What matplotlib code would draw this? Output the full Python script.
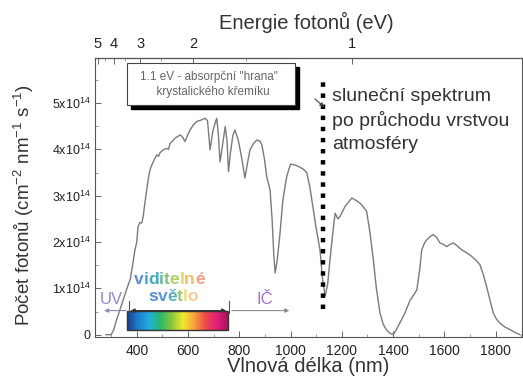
import matplotlib
matplotlib.use('Agg')
import matplotlib.pyplot as plt
from matplotlib.patches import Rectangle
from matplotlib.colors import LinearSegmentedColormap
import numpy as np

plt.rcParams['font.family'] = ['Liberation Sans', 'DejaVu Sans']
plt.rcParams['mathtext.fontset'] = 'custom'
plt.rcParams['mathtext.rm'] = 'Liberation Sans'
plt.rcParams['mathtext.it'] = 'Liberation Sans:italic'

# spektrum po průchodu atmosférou (jednotky 1e14 fotonů cm-2 nm-1 s-1)
wl = [280, 300, 310, 320, 335, 350, 365, 375, 385, 393, 400, 405, 412, 420, 425,
      432, 439, 446, 452, 460, 465, 472, 479, 485, 491, 504, 517, 524, 530, 540,
      549, 560, 569, 578, 588, 598, 608, 620, 634, 650, 666, 676, 686, 697, 705,
      712, 718, 725, 735, 745, 752, 758, 765, 775, 783, 796, 810, 822, 832, 842,
      855, 868, 880, 888, 898, 907, 920, 928, 935, 940, 948, 959, 970, 985, 1000,
      1018, 1035, 1050, 1063, 1075, 1089, 1100, 1115, 1125, 1135, 1145, 1154, 1165,
      1174, 1185, 1193, 1213, 1239, 1255, 1271, 1285, 1297, 1310, 1323, 1335, 1349,
      1362, 1375, 1388, 1401, 1414, 1427, 1445, 1467, 1480, 1493, 1505, 1512, 1522,
      1532, 1545, 1557, 1570, 1583, 1596, 1609, 1622, 1635, 1650, 1668, 1690, 1707,
      1725, 1739, 1752, 1765, 1778, 1791, 1804, 1817, 1835, 1856, 1875, 1895]
flux = [0.0, 0.0, 0.1, 0.3, 0.55, 0.8, 1.05, 1.2, 1.55, 1.83, 2.0, 2.33, 2.42, 2.41, 2.55,
        2.85, 3.13, 3.4, 3.56, 3.68, 3.74, 3.82, 3.88, 3.85, 3.93, 3.99, 4.02, 4.0, 4.13, 4.18,
        4.24, 4.28, 4.31, 4.27, 4.17, 4.3, 4.42, 4.52, 4.6, 4.63, 4.67, 4.62, 3.99, 4.4, 4.55,
        4.67, 4.35, 3.73, 4.1, 4.49, 4.2, 3.52, 3.9, 4.3, 4.42, 4.2, 3.8, 3.38, 3.7, 3.99,
        4.12, 4.2, 4.18, 4.1, 3.8, 3.41, 3.13, 2.5, 1.7, 1.33, 1.6, 2.19, 2.9, 3.41, 3.68,
        3.66, 3.62, 3.57, 3.5, 3.2, 2.69, 2.3, 1.83, 1.2, 0.83, 1.1, 1.62, 2.2,
        2.62, 2.5, 2.55, 2.77, 2.95, 2.9, 2.84, 2.75, 2.66, 2.2, 1.62, 1.0, 0.47,
        0.22, 0.1, 0.03, 0.0, 0.12, 0.26, 0.45, 0.75, 0.85, 0.97, 1.45, 1.83, 1.97,
        2.05, 2.12, 2.16, 2.1, 1.98, 1.95, 1.9, 1.95, 1.98, 1.92, 1.83, 1.76, 1.69,
        1.6, 1.51, 1.3, 1.04, 0.75, 0.47, 0.33, 0.25, 0.17, 0.11, 0.05, 0.0]

x_ticks = [400, 600, 800, 1000, 1200, 1400, 1600, 1800]
y_ticks = [0, 1, 2, 3, 4, 5]
y_labels = ['0', r'1x10$^{14}$', r'2x10$^{14}$', r'3x10$^{14}$', r'4x10$^{14}$', r'5x10$^{14}$']
e_ticks = [5, 4, 3, 2, 1]
e_minor = [4.5, 3.5, 2.5, 1.5]
edge_ev = 1.1
vis_range = (370, 760)

fig = plt.figure(figsize=(5.23, 3.80), dpi=100)
ax = fig.add_axes([0.1816, 0.1132, 0.8164, 0.734])

ax.plot(wl, flux, color='#7a7a7a', lw=1.0, zorder=2)

# absorpční hrana křemíku
edge_wl = 1240 / edge_ev
ax.plot([edge_wl, edge_wl], [0.55, 5.5], color='black', lw=3.2,
        dashes=(1, 1.5), dash_capstyle='butt', zorder=4)

ax.set_xlim(237, 1903)
ax.set_ylim(-0.05, 5.97)
ax.set_xticks(x_ticks)
ax.set_xticks(np.arange(300, 1901, 100), minor=True)
ax.set_yticks(y_ticks)
ax.set_yticklabels(y_labels)
ax.set_yticks(np.arange(0.5, 5.6, 1.0), minor=True)
ax.tick_params(direction='in', length=4, width=0.7, color='#666666', labelsize=10,
               labelcolor='#222222')
ax.tick_params(axis='x', pad=5)
ax.tick_params(axis='y', pad=3, labelsize=9)
ax.tick_params(which='minor', direction='in', length=2, width=0.6, color='#888888')
for sp in ax.spines.values():
    sp.set_color('#555555')
    sp.set_linewidth(0.8)

# horní osa - energie fotonů
sec = ax.secondary_xaxis('top', functions=(lambda x: 1240 / x, lambda x: 1240 / x))
sec.set_xticks(e_ticks)
sec.set_xticks(e_minor, minor=True)
sec.set_xticklabels([str(e) for e in e_ticks])
sec.tick_params(direction='in', length=4, width=0.7, color='#666666', labelsize=10.5,
                pad=5, labelcolor='#222222')
sec.tick_params(which='minor', direction='in', length=2, width=0.6, color='#888888')

fig.text(0.586, 0.942, 'Energie fotonů (eV)', ha='center', va='center', fontsize=14.5,
         color='#333333')
fig.text(0.589, 0.036, 'Vlnová délka (nm)', ha='center', va='center', fontsize=14.5,
         color='#333333')
fig.text(0.046, 0.46, r'Počet fotonů (cm$^{-2}$ nm$^{-1}$ s$^{-1}$)', ha='center',
         va='center', rotation=90, fontsize=13.5, color='#333333')

# rámeček s poznámkou
ax.add_patch(Rectangle((0.084, 0.818), 0.393, 0.15, transform=ax.transAxes,
                       facecolor='black', edgecolor='black', zorder=5, clip_on=False))
ax.add_patch(Rectangle((0.075, 0.832), 0.393, 0.15, transform=ax.transAxes,
                       facecolor='white', edgecolor='#444444', lw=0.8, zorder=6,
                       clip_on=False))
ax.text(0.268, 0.905, '1.1 eV - absorpční "hrana"\n  krystalického křemíku',
        transform=ax.transAxes, ha='center', va='center', fontsize=8.5,
        color='#666666', linespacing=1.25, zorder=7)
ax.annotate('', xy=(0.542, 0.818), xytext=(0.51, 0.86), xycoords='axes fraction',
            arrowprops=dict(arrowstyle='-|>', color='#444444', lw=0.8,
                            mutation_scale=6), zorder=7)

ax.text(0.555, 0.892, 'sluneční spektrum\npo průchodu vrstvou\natmosféry',
        transform=ax.transAxes, ha='left', va='top', fontsize=14,
        color='#333333', linespacing=1.42, zorder=7)

# viditelné světlo - barevný pruh
cmap = LinearSegmentedColormap.from_list('vis', ['#1c3f8f', '#1f7fd0', '#20b0d8', '#2cb868',
                                                 '#8cc83c', '#f2e832', '#f6a23a', '#ee4a4a',
                                                 '#e0207a', '#b01060'])
ax.imshow(np.linspace(0, 1, 256)[None, :], cmap=cmap, aspect='auto',
          extent=(362, 756, 0.11, 0.52), zorder=5)
ax.add_patch(Rectangle((362, 0.11), 756 - 362, 0.41, facecolor='none',
                       edgecolor='#333333', lw=1.0, zorder=6))

arrow_y = 0.52
ax.annotate('', xy=(262, arrow_y), xytext=(vis_range[0], arrow_y),
            arrowprops=dict(arrowstyle='-|>', color='#8a8ab0', lw=0.8, mutation_scale=6),
            zorder=6)
ax.annotate('', xy=(vis_range[0] - 5, arrow_y), xytext=(vis_range[1], arrow_y),
            arrowprops=dict(arrowstyle='<|-|>', color='#333333', lw=0.8, mutation_scale=6),
            zorder=7)
ax.annotate('', xy=(1006, arrow_y), xytext=(vis_range[1], arrow_y),
            arrowprops=dict(arrowstyle='-|>', color='#8a8a8a', lw=0.8, mutation_scale=6),
            zorder=6)
for b in vis_range:
    ax.plot([b, b], [0.47, 0.72], color='#555555', lw=0.8, zorder=7)

ax.text(300, 0.75, 'UV', ha='center', va='center', fontsize=12, color='#8c8cd0', zorder=7)
ax.text(900, 0.75, 'IČ', ha='center', va='center', fontsize=12, color='#a070d0', zorder=7)


def rainbow(x, y, chars, colors, size):
    t = ax.text(x, y, chars[0], color=colors[0], fontsize=size, va='bottom',
                zorder=7, fontweight='bold')
    for ch, c in zip(chars[1:], colors[1:]):
        t = ax.annotate(ch, xycoords=t, xy=(1, 0), va='bottom', color=c,
                        fontsize=size, zorder=7, fontweight='bold')


rainbow(389, 1.03, 'viditelné',
        ['#5a8ed2', '#4c9ed4', '#44a8c4', '#5cb89a', '#84c474', '#b0d060',
         '#dcd85c', '#f2bc6a', '#f2a084'], 12.5)
rainbow(444, 0.66, 'světlo',
        ['#5a8ed2', '#5a9ad2', '#5eaac2', '#94c870', '#eae070', '#f4cc96'], 12.5)

fig.savefig('out.png', dpi=100)
